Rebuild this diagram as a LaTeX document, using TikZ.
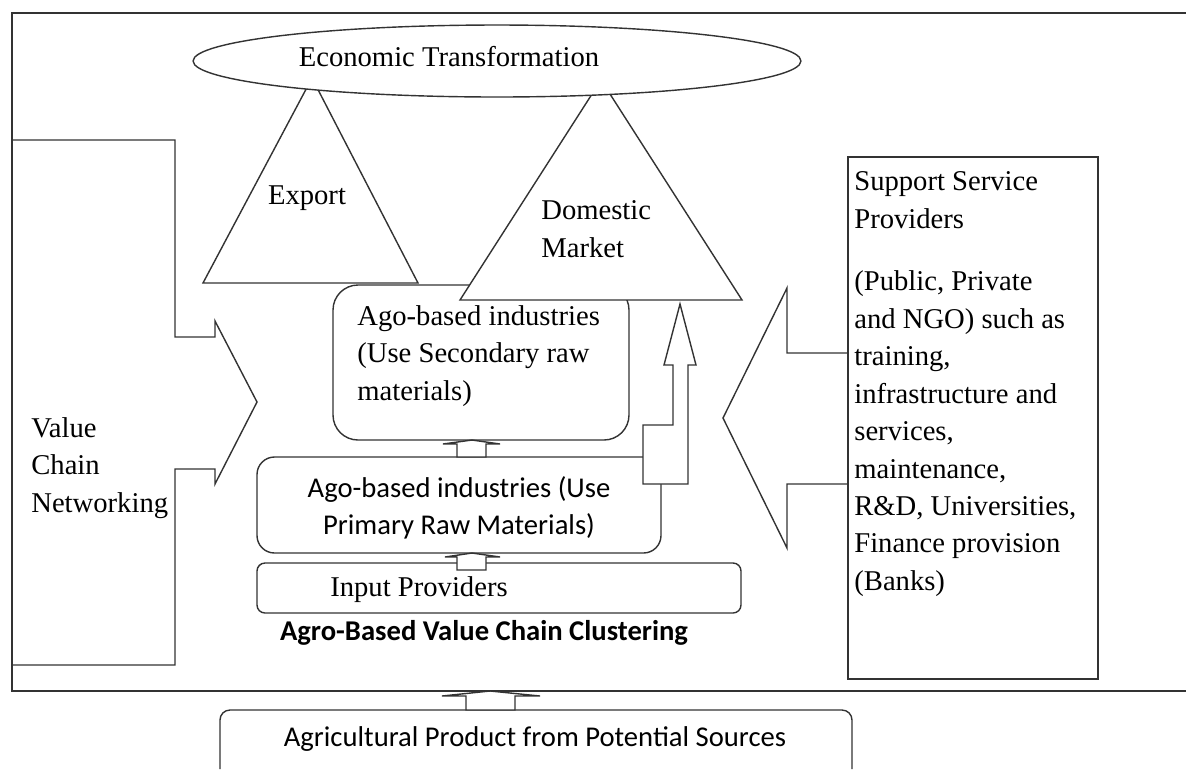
\documentclass[tikz,border=0pt]{standalone}
\usepackage{fontspec}
\setmainfont{Liberation Serif}
\setsansfont{Carlito}
\usetikzlibrary{shapes.geometric}

\begin{document}
\begin{tikzpicture}[x=0.02cm, y=-0.02cm,
    line_style/.style={draw=black!80, line width=0.8pt},
    white_shape/.style={line_style, fill=white},
    serif_text/.style={font=\rmfamily\fontsize{16.3}{21.3}\selectfont, inner sep=0pt, align=left},
    sans_text/.style={font=\sffamily\fontsize{16.3}{21.3}\selectfont, inner sep=0pt, align=center}]

    \useasboundingbox (0,0) rectangle (1186,769);

    % outer frame
    \draw[line_style, line width=1.1pt] (1186,13) -- (12,13) -- (12,691) -- (1186,691);

    % value chain networking (arrow to the right)
    \draw[line_style] (12,140) -- (175,140) -- (175,337) -- (215,337) -- (215,321) -- (257,402)
        -- (215,484) -- (215,469) -- (175,469) -- (175,665) -- (12,665) -- cycle;
    \node[serif_text, anchor=west] (vcn) at (31,468) {Value\\Chain\\Networking};

    % support service providers (arrow to the left)
    \draw[line_style] (848,157) rectangle (1098,679);
    \draw[line_style] (848,353) -- (787,353) -- (787,288) -- (723,418) -- (787,548) -- (787,484) -- (848,484);
    \node[serif_text, anchor=west] (ssp) at (854,384) {Support Service\\Providers\\[14.5pt]
        (Public, Private\\and NGO) such as\\training,\\infrastructure and\\services,\\maintenance,\\
        R\&D, Universities,\\Finance provision\\(Banks)};

    % secondary raw materials
    \draw[line_style, rounded corners=0.5cm] (333,285) rectangle (629,440);
    \node[serif_text, anchor=west] (sec) at (357,356) {Ago-based industries\\(Use Secondary raw\\materials)};

    % markets
    \draw[white_shape] (203,283) -- (312,78) -- (418,283) -- cycle;
    \draw[white_shape] (460,300) -- (601,80) -- (742,300) -- cycle;
    \node[serif_text] (export) at (307,198) {Export};
    \node[serif_text, anchor=west] (domestic) at (541,229) {Domestic\\Market};

    \node[ellipse, white_shape, minimum width=12.16cm, minimum height=1.44cm, inner sep=0pt] (econ) at (497,61) {};
    \node[serif_text] (econ_txt) at (449,57) {Economic Transformation};

    % primary raw materials
    \draw[line_style, rounded corners=0.35cm] (257,457) rectangle (661,553);
    \node[sans_text] (prim) at (459,508) {Ago-based industries (Use\\Primary Raw Materials)};
    \draw[white_shape] (643,484) -- (688,484) -- (688,365) -- (696,365) -- (680,304) -- (664,365)
        -- (673,365) -- (673,425) -- (643,425) -- cycle;

    % input providers
    \draw[line_style, rounded corners=0.16cm] (257,563) rectangle (741,613);
    \node[serif_text] (input) at (419,590) {Input Providers};
    \node[sans_text, font=\sffamily\bfseries\fontsize{16.3}{21.3}\selectfont] (cluster) at (484,633)
        {Agro-Based Value Chain Clustering};

    % small up arrows
    \draw[white_shape] (457,457) -- (457,444) -- (443,444) -- (472,440) -- (500,444) -- (486,444) -- (486,457) -- cycle;
    \draw[white_shape] (457,570) -- (457,557) -- (445,557) -- (472,553) -- (500,557) -- (486,557) -- (486,570) -- cycle;

    % agricultural product
    \draw[line_style, rounded corners=0.2cm] (220,769) -- (220,710) -- (852,710) -- (852,769);
    \node[sans_text] (agri) at (535,739) {Agricultural Product from Potential Sources};
    \draw[white_shape] (466,710) -- (466,696) -- (442,696) -- (490,691) -- (540,696) -- (515,696) -- (515,710) -- cycle;

\end{tikzpicture}
\end{document}
